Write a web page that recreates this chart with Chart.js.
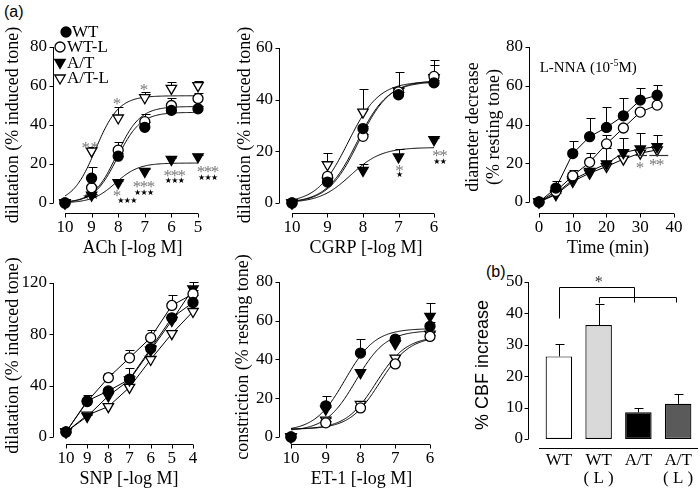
<!DOCTYPE html>
<html>
<head>
<meta charset="utf-8">
<script src="https://cdn.jsdelivr.net/npm/chart.js@4.4.1/dist/chart.umd.min.js"></script>
<style>
  body { margin: 0; background: #fff; width: 700px; height: 492px; position: relative; overflow: hidden; }
  canvas { position: absolute; }
  .tag { position: absolute; font: 16px 'Liberation Sans', Arial, sans-serif; color: #000; }
</style>
</head>
<body>
<div class="tag" style="left:4px;top:3px">(a)</div>
<div class="tag" style="left:486px;top:263px">(b)</div>
<canvas id="ach" style="left:0;top:0" width="240" height="262"></canvas>
<canvas id="cgrp" style="left:230px;top:0" width="240" height="262"></canvas>
<canvas id="lnna" style="left:460px;top:0" width="240" height="262"></canvas>
<canvas id="snp" style="left:0;top:240px" width="240" height="252"></canvas>
<canvas id="et1" style="left:230px;top:240px" width="240" height="252"></canvas>
<canvas id="cbf" style="left:460px;top:240px" width="240" height="252"></canvas>
<script>
const SERIF = "'Liberation Serif', 'Times New Roman', serif";
const SANS = "'Liberation Sans', Arial, sans-serif";

const seriesNames = ['WT', 'WT-L', 'A/T', 'A/T-L'];

// ACh dose-response
const achDose = [10, 9, 8, 7, 6, 5];
const achWT  = [0, 12.7, 24, 38.8, 47.5, 48.3];
const achWTL = [0, 7.8, 27.1, 41.7, 50, 53.6];
const achAT  = [0, 4, 10.4, 16.2, 22.3, 23.7];
const achATL = [0, 26.6, 43.6, 54, 58.8, 60.2];
const achSemWT  = [0, 6, 1.5, 2.5, 1.5, 1.5];
const achSemWTL = [0, 1, 4, 4, 4, 3];
const achSemAT  = [0, 0.5, 1, 1, 1, 1];
const achSemATL = [0, 2, 5.5, 3, 3, 2.5];
const achFitTop = [46.5, 49.5, 20.5, 55];
const achFitBottom = [0, 0, 0, 0];
const achFitEC50 = [8.03, 8.05, 8.1, 8.85];
const achXTicks = [10, 9, 8, 7, 6, 5];
const achYTicks = [0, 20, 40, 60, 80];
const achMarks = [
  { x: 9.05, y: 30, n: 2, kind: 'gray', gap: 9 },
  { x: 8.04, y: 52.7, n: 1, kind: 'gray' },
  { x: 7.03, y: 59.7, n: 1, kind: 'gray' },
  { x: 8.04, y: 5.2, n: 1, kind: 'gray' },
  { x: 7.03, y: 10.1, n: 3, kind: 'gray' },
  { x: 5.875, y: 15.6, n: 3, kind: 'gray' },
  { x: 4.625, y: 17.9, n: 3, kind: 'gray' },
  { x: 9.04, y: 3.1, n: 2, kind: 'star', gap: 9 },
  { x: 7.66, y: 0.9, n: 3, kind: 'star' },
  { x: 7.03, y: 5.2, n: 3, kind: 'star' },
  { x: 5.875, y: 11.3, n: 3, kind: 'star' },
  { x: 4.625, y: 13, n: 3, kind: 'star' }
];

// CGRP dose-response
const cgrpDose = [10, 9, 8, 7, 6];
const cgrpWT  = [0, 8.1, 28.8, 41.9, 46.5];
const cgrpWTL = [0, 10.3, 25.8, 43, 49];
const cgrpAT  = [0, 8.5, 12.6, 17.8, 24.5];
const cgrpATL = [0, 14.8, 35.2, 43.4, 48.5];
const cgrpSemWT  = [0, 1, 1.2, 1, 1];
const cgrpSemWTL = [0, 1, 1, 1.5, 4.3];
const cgrpSemAT  = [0, 0.5, 2.6, 3.2, 0.5];
const cgrpSemATL = [0, 4.6, 9, 7.5, 6.7];
const cgrpFitTop = [47, 47.5, 21.5, 47];
const cgrpFitBottom = [0, 0, 0, 0];
const cgrpFitEC50 = [8.17, 8.12, 8.35, 8.42];
const cgrpXTicks = [10, 9, 8, 7, 6];
const cgrpYTicks = [0, 20, 40, 60];
const cgrpMarks = [
  { x: 6.97, y: 13.9, n: 1, kind: 'gray' },
  { x: 6.97, y: 11, n: 1, kind: 'star' },
  { x: 5.83, y: 19.4, n: 2, kind: 'gray' },
  { x: 5.83, y: 15.9, n: 2, kind: 'star' }
];

// L-NNA time course
const lnnaTime = [0, 5, 10, 15, 20, 25, 30, 35];
const lnnaWT  = [0, 7.2, 25, 33.7, 38.5, 44.5, 52.6, 55.1];
const lnnaWTL = [0, 5.5, 13.5, 20.5, 30, 38.2, 46.4, 50];
const lnnaAT  = [0, 4.3, 11.5, 15.8, 19.7, 25.5, 27.4, 28.6];
const lnnaATL = [0, 3.8, 10.6, 14.9, 18.3, 22.1, 25.2, 26.9];
const lnnaSemWT  = [0, 3.4, 6.7, 9.5, 10.6, 9.4, 6, 5.2];
const lnnaSemWTL = [0, 1, 3.1, 4.7, 4.6, 0, 0, 0];
const lnnaSemAT  = [0, 0.5, 1, 1, 8, 7.7, 8.4, 6];
const lnnaSemATL = [0, 0, 0, 0, 0, 0, 0, 0];
const lnnaXTicks = [0, 10, 20, 30, 40];
const lnnaYTicks = [0, 20, 40, 60, 80];
const lnnaMarks = [
  { x: 29.9, y: 19.2, n: 1, kind: 'gray' },
  { x: 34.9, y: 20.9, n: 2, kind: 'gray' }
];
const lnnaRules = [[28.6, 32.0, 24.1], [32.7, 38.3, 24.1]];

// SNP dose-response
const snpDose = [10, 9, 8, 7, 6, 5, 4];
const snpWT  = [3.9, 28.1, 35.9, 45, 68.9, 92.9, 104.8];
const snpWTL = [3.9, 27.6, 46.2, 61.7, 77.4, 102.5, 111.5];
const snpAT  = [3.9, 16, 32, 44.4, 67.6, 90.8, 115.4];
const snpATL = [3.9, 17, 23.7, 38.7, 60.4, 80.5, 97.8];
const snpSemWT  = [0, 2, 2, 3, 3, 3, 6];
const snpSemWTL = [0, 5, 4, 6, 5.6, 8, 3];
const snpSemAT  = [0, 1, 2, 9, 3, 3, 5];
const snpSemATL = [0, 1, 2, 2, 3, 3, 3];
const snpXTicks = [10, 9, 8, 7, 6, 5, 4];
const snpYTicks = [0, 40, 80, 120];

// ET-1 dose-response
const etDose = [10, 9, 8, 7, 6];
const etWT  = [0, 16.1, 43.3, 50.5, 57.1];
const etWTL = [0, 7.3, 15, 37.7, 51.9];
const etAT  = [0, 14.4, 33.2, 48.1, 62.3];
const etATL = [0, 8.7, 16.8, 40.7, 53.1];
const etSemWT  = [0, 5, 7.2, 1, 2];
const etSemWTL = [0, 1, 1, 1, 1];
const etSemAT  = [0, 1, 2, 4.7, 7];
const etSemATL = [0, 1, 1, 1.7, 1];
const etFitTop = [56, 52, 55, 52];
const etFitBottom = [3, 4, 3, 4];
const etFitEC50 = [8.445, 7.45, 8.135, 7.55];
const etXTicks = [10, 9, 8, 7, 6];
const etYTicks = [0, 20, 40, 60, 80];

// CBF bars
const cbfLabels = [['WT'], ['WT', '( L )'], ['A/T'], ['A/T', '( L )']];
const cbfValues = [26.3, 36.3, 8.5, 11.2];
const cbfSem = [3.8, 6.7, 1.3, 3];
const cbfYTicks = [0, 10, 20, 30, 40, 50];
const cbfBracketA = [[0, 38.5], [0, 48.4], [1.89, 48.4], [1.89, 43.6]];
const cbfBracketB = [[1, 43.2], [1, 45.2], [2.94, 45.2], [2.94, 43.6]];

const looks = [
  { pointStyle: 'circle', rotation: 0, radius: 5, fill: '#000' },
  { pointStyle: 'circle', rotation: 0, radius: 5, fill: '#fff' },
  { pointStyle: 'triangle', rotation: 180, radius: 6, fill: '#000' },
  { pointStyle: 'triangle', rotation: 180, radius: 6, fill: '#fff' }
];

Chart.defaults.font.family = SERIF;
Chart.defaults.color = '#000';

const snap = v => Math.round(v) + 0.5;

// Prism-like axes, fits, error bars and marks
const prismPlugin = {
  id: 'prism',
  beforeDatasetsDraw(chart, args, o) {
    const { ctx, chartArea: ca } = chart;
    const x = chart.scales.x, y = chart.scales.y;
    ctx.save();
    ctx.strokeStyle = '#000';
    ctx.lineWidth = 1;
    ctx.beginPath();
    const ax = snap(ca.left - (o.yGap || 0));
    const yt = y.ticks;
    ctx.moveTo(ax, y.getPixelForValue(yt[0].value));
    ctx.lineTo(ax, y.getPixelForValue(yt[yt.length - 1].value));
    yt.forEach(t => {
      const py = snap(y.getPixelForValue(t.value));
      ctx.moveTo(ax - 4, py); ctx.lineTo(ax, py);
    });
    const ay = snap(ca.bottom);
    if (o.category) {
      ctx.moveTo(ca.left, ay); ctx.lineTo(ca.right, ay);
    } else {
      const xt = x.ticks;
      ctx.moveTo(x.getPixelForValue(xt[0].value), ay);
      ctx.lineTo(x.getPixelForValue(xt[xt.length - 1].value), ay);
      xt.forEach(t => {
        const px = snap(x.getPixelForValue(t.value));
        ctx.moveTo(px, ay); ctx.lineTo(px, ay + 4);
      });
    }
    ctx.stroke();

    // fitted sigmoid curves
    (o.fits || []).forEach(f => {
      ctx.beginPath();
      for (let i = 0; i <= 150; i++) {
        const xv = f.from + (f.to - f.from) * i / 150;
        const yv = f.bottom + (f.top - f.bottom) / (1 + Math.pow(10, xv - f.mid));
        const px = x.getPixelForValue(xv), py = y.getPixelForValue(yv);
        if (i === 0) ctx.moveTo(px, py); else ctx.lineTo(px, py);
      }
      ctx.stroke();
    });

    // error bars (upper half only)
    chart.data.datasets.forEach(ds => {
      if (!ds.sem) return;
      ds.data.forEach((p, i) => {
        const e = ds.sem[i];
        if (!e) return;
        const xv = typeof p === 'number' ? i : p.x;
        const yv = typeof p === 'number' ? p : p.y;
        const px = snap(x.getPixelForValue(xv));
        const p0 = y.getPixelForValue(yv), p1 = snap(y.getPixelForValue(yv + e));
        ctx.beginPath();
        ctx.moveTo(px, p0); ctx.lineTo(px, p1);
        ctx.moveTo(px - 4, p1); ctx.lineTo(px + 5, p1);
        ctx.stroke();
      });
    });
    ctx.restore();
  },
  afterDatasetsDraw(chart, args, o) {
    const { ctx } = chart;
    const x = chart.scales.x, y = chart.scales.y;
    ctx.save();
    ctx.textAlign = 'center';
    ctx.textBaseline = 'middle';
    (o.marks || []).forEach(m => {
      const star = m.kind === 'star';
      const gap = m.gap || (star ? 6.5 : 7);
      const cx = x.getPixelForValue(m.x), cy = y.getPixelForValue(m.y);
      ctx.font = star ? "8px 'DejaVu Sans'" : '17px ' + SERIF;
      ctx.fillStyle = star ? '#000' : '#7a7a7a';
      for (let k = 0; k < m.n; k++) {
        ctx.fillText(star ? '\u2605' : '*', cx + (k - (m.n - 1) / 2) * gap, cy + (star ? 0 : 4));
      }
    });
    ctx.strokeStyle = '#333';
    ctx.lineWidth = 1.2;
    (o.rules || []).forEach(r => {
      const py = snap(y.getPixelForValue(r[2]));
      ctx.beginPath();
      ctx.moveTo(x.getPixelForValue(r[0]), py);
      ctx.lineTo(x.getPixelForValue(r[1]), py);
      ctx.stroke();
    });
    ctx.strokeStyle = '#000';
    ctx.lineWidth = 1;
    (o.brackets || []).forEach(b => {
      ctx.beginPath();
      b.forEach((pt, i) => {
        const px = snap(x.getPixelForValue(pt[0])), py = snap(y.getPixelForValue(pt[1]));
        if (i === 0) ctx.moveTo(px, py); else ctx.lineTo(px, py);
      });
      ctx.stroke();
    });
    if (o.bracketStar) {
      ctx.fillStyle = '#333';
      ctx.font = '16px ' + SERIF;
      ctx.fillText('*', x.getPixelForValue(o.bracketStar[0]), y.getPixelForValue(o.bracketStar[1]) + 4);
    }
    if (o.note) {
      const nx = x.getPixelForValue(o.note.x), ny = y.getPixelForValue(o.note.y);
      ctx.textAlign = 'left';
      ctx.fillStyle = '#000';
      ctx.font = '15px ' + SERIF;
      const a = 'L-NNA (10';
      ctx.fillText(a, nx, ny);
      let w = ctx.measureText(a).width;
      ctx.font = '10px ' + SERIF;
      ctx.fillText('-5', nx + w, ny - 5);
      w += ctx.measureText('-5').width;
      ctx.font = '15px ' + SERIF;
      ctx.fillText('M)', nx + w, ny);
    }
    if (o.legend) {
      const L = o.legend;
      ctx.textAlign = 'left';
      ctx.font = '17px ' + SERIF;
      seriesNames.forEach((name, k) => {
        const lk = looks[k];
        ctx.fillStyle = lk.fill;
        ctx.strokeStyle = '#000';
        ctx.lineWidth = 1.3;
        Chart.helpers.drawPoint(ctx, { pointStyle: lk.pointStyle, rotation: lk.rotation, radius: lk.radius, borderWidth: 1.3 }, L.sx[k], L.ys[k]);
        ctx.fillStyle = '#000';
        ctx.fillText(name, L.tx[k], L.ys[k] + 1);
      });
    }
    ctx.restore();
  }
};

function fixedTicks(list) {
  return scale => { scale.ticks = list.map(v => ({ value: v })); };
}

function xyPanel(id, p) {
  const datasets = p.series.map((vals, k) => ({
    label: seriesNames[k],
    data: vals.map((v, i) => ({ x: p.xs[i], y: v })),
    sem: p.sem[k],
    showLine: !!p.connect,
    borderColor: '#000',
    borderWidth: 1,
    pointStyle: looks[k].pointStyle,
    pointRotation: looks[k].rotation,
    pointRadius: looks[k].radius,
    pointBackgroundColor: looks[k].fill,
    pointBorderColor: '#000',
    pointBorderWidth: 1.3,
    clip: false
  }));
  const fits = p.fitTop ? p.fitTop.map((t, k) => ({
    top: t, bottom: p.fitBottom[k], mid: p.fitMid[k], from: p.xs[0], to: p.xs[p.xs.length - 1]
  })) : [];
  const f = p.frame;
  return new Chart(document.getElementById(id), {
    type: 'scatter',
    data: { datasets },
    options: {
      responsive: false, animation: false, devicePixelRatio: 1, events: [],
      layout: { padding: { left: 0, top: f.top, right: f.right, bottom: 0 } },
      plugins: {
        legend: { display: false }, tooltip: { enabled: false },
        prism: { fits, marks: p.marks, rules: p.rules, note: p.note, legend: p.legend }
      },
      scales: {
        x: {
          type: 'linear', reverse: !!f.reverse, min: f.xMin, max: f.xMax, bounds: 'data',
          afterBuildTicks: fixedTicks(p.xTicks),
          afterFit: s => { s.height = f.xHeight; },
          grid: { display: false, drawTicks: false }, border: { display: false },
          ticks: { font: { size: 17 }, color: '#000', padding: 4, autoSkip: false, maxRotation: 0, callback: v => String(v) },
          title: { display: true, text: p.xTitle, font: { size: 18 }, color: '#000', padding: { top: 0, bottom: f.xTitlePad } }
        },
        y: {
          min: f.yMin, max: f.yMax, bounds: 'data',
          afterBuildTicks: fixedTicks(p.yTicks),
          afterFit: s => { s.width = f.yWidth; },
          grid: { display: false, drawTicks: false }, border: { display: false },
          ticks: { font: { size: 17 }, color: '#000', padding: 6, callback: v => String(v) },
          title: { display: true, text: p.yTitle, font: { size: 18 }, color: '#000', padding: { top: f.yTitlePad, bottom: 0 } }
        }
      }
    },
    plugins: [prismPlugin]
  });
}

xyPanel('ach', {
  xs: achDose, series: [achWT, achWTL, achAT, achATL],
  sem: [achSemWT, achSemWTL, achSemAT, achSemATL],
  fitTop: achFitTop, fitBottom: achFitBottom, fitMid: achFitEC50,
  xTicks: achXTicks, yTicks: achYTicks, marks: achMarks,
  xTitle: 'ACh [-log M]', yTitle: 'dilatation (% induced tone)',
  legend: { sx: [66, 60, 60, 60], tx: [72, 67, 67, 67], ys: [32, 47, 62.5, 78] },
  frame: { top: 37, right: 28, yWidth: 53, xHeight: 49, reverse: true, xMin: 4.474, xMax: 10.45, yMin: -5.13, yMax: 85.13, xTitlePad: 3.2, yTitlePad: 2.2 }
});

xyPanel('cgrp', {
  xs: cgrpDose, series: [cgrpWT, cgrpWTL, cgrpAT, cgrpATL],
  sem: [cgrpSemWT, cgrpSemWTL, cgrpSemAT, cgrpSemATL],
  fitTop: cgrpFitTop, fitBottom: cgrpFitBottom, fitMid: cgrpFitEC50,
  xTicks: cgrpXTicks, yTicks: cgrpYTicks, marks: cgrpMarks,
  xTitle: 'CGRP [-log M]', yTitle: 'dilatation (% induced tone)',
  frame: { top: 37, right: 17, yWidth: 49, xHeight: 49, reverse: true, xMin: 5.465, xMax: 10.366, yMin: -3.87, yMax: 64.26, xTitlePad: 3.2, yTitlePad: 4.2 }
});

xyPanel('lnna', {
  xs: lnnaTime, series: [lnnaWT, lnnaWTL, lnnaAT, lnnaATL], connect: true,
  sem: [lnnaSemWT, lnnaSemWTL, lnnaSemAT, lnnaSemATL],
  xTicks: lnnaXTicks, yTicks: lnnaYTicks, marks: lnnaMarks, rules: lnnaRules,
  note: { x: 0.2, y: 69 },
  xTitle: 'Time (min)', yTitle: ['diameter decrease', '(% resting tone)'],
  frame: { top: 41, right: 13, yWidth: 69, xHeight: 49, xMin: -2.96, xMax: 43.85, yMin: -5.68, yMax: 83.1, xTitlePad: 3.2, yTitlePad: 2.2 }
});

xyPanel('snp', {
  xs: snpDose, series: [snpWT, snpWTL, snpAT, snpATL], connect: true,
  sem: [snpSemWT, snpSemWTL, snpSemAT, snpSemATL],
  xTicks: snpXTicks, yTicks: snpYTicks,
  xTitle: 'SNP [-log M]', yTitle: 'dilatation (% induced tone)',
  frame: { top: 27, right: 35, yWidth: 53, xHeight: 48, reverse: true, xMin: 3.433, xMax: 10.614, yMin: -5.45, yMax: 132.47, xTitlePad: 2.2, yTitlePad: 2.2 }
});

xyPanel('et1', {
  xs: etDose, series: [etWT, etWTL, etAT, etATL],
  sem: [etSemWT, etSemWTL, etSemAT, etSemATL],
  fitTop: etFitTop, fitBottom: etFitBottom, fitMid: etFitEC50,
  xTicks: etXTicks, yTicks: etYTicks,
  xTitle: 'ET-1 [-log M]', yTitle: 'constriction (% resting tone)',
  frame: { top: 30, right: 26, yWidth: 49, xHeight: 48, reverse: true, xMin: 5.597, xMax: 10.345, yMin: -3.61, yMax: 86.19, xTitlePad: 2.2, yTitlePad: 2.2 }
});

new Chart(document.getElementById('cbf'), {
  type: 'bar',
  data: {
    labels: cbfLabels,
    datasets: [{
      data: cbfValues,
      sem: cbfSem,
      backgroundColor: ['#ffffff', '#d9d9d9', '#000000', '#5a5a5a'],
      borderColor: '#000',
      borderWidth: 1.2,
      borderSkipped: false,
      barPercentage: 0.667,
      categoryPercentage: 1
    }]
  },
  options: {
    responsive: false, animation: false, devicePixelRatio: 1, events: [],
    layout: { padding: { left: 0, top: 42, right: 2, bottom: 0 } },
    plugins: {
      legend: { display: false }, tooltip: { enabled: false },
      prism: { category: true, yGap: 11, brackets: [cbfBracketA, cbfBracketB], bracketStar: [1, 51] }
    },
    scales: {
      x: {
        afterFit: s => { s.height = 44; },
        grid: { display: false, drawTicks: false }, border: { display: false },
        ticks: { font: { size: 17, lineHeight: 1.05 }, color: '#000', padding: 4, autoSkip: false, maxRotation: 0 }
      },
      y: {
        min: -2.87, max: 50, bounds: 'data',
        afterBuildTicks: fixedTicks(cbfYTicks),
        afterFit: s => { s.width = 79; },
        grid: { display: false, drawTicks: false }, border: { display: false },
        ticks: { font: { size: 17 }, color: '#000', padding: 16, callback: v => String(v) },
        title: { display: true, text: '% CBF increase', font: { family: SANS, size: 18 }, color: '#000', padding: { top: 12.2, bottom: 0 } }
      }
    }
  },
  plugins: [prismPlugin]
});
</script>
</body>
</html>
